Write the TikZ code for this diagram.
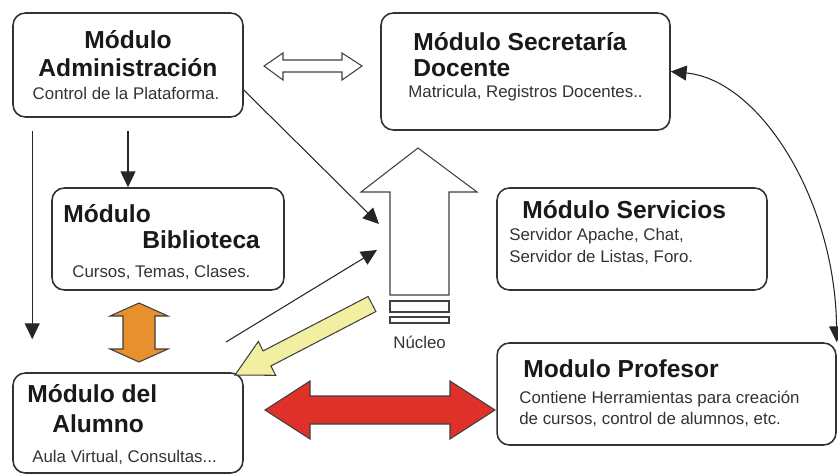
\documentclass[tikz,border=0pt]{standalone}
\usepackage{fontspec}
\setmainfont{Liberation Sans}
\usetikzlibrary{arrows.meta}
\definecolor{amarillo}{HTML}{F2EFA0}
\definecolor{naranja}{HTML}{E8902E}
\definecolor{rojo}{HTML}{E0302A}

\begin{document}
\begin{tikzpicture}[x=0.02cm,y=-0.02cm,
    caja/.style={draw=black!80,line width=0.9pt,rounded corners=7pt,inner sep=0pt},
    titulo/.style={anchor=base west,inner sep=0pt,text=black!90,font=\fontsize{14}{14}\selectfont\bfseries},
    texto/.style={anchor=base west,inner sep=0pt,text=black!80,font=\fontsize{9.6}{9.6}\selectfont},
    flecha/.style={-{Triangle[length=9pt,width=8.5pt]},line width=0.6pt,draw=black!85},
    bloque/.style={draw=black!75,line width=0.6pt,line join=miter}]
    \useasboundingbox (0,0) rectangle (838,474);
    \node[caja,minimum width=4.6cm,minimum height=2.08cm] (adm) at (128,65) {};
    \node[caja,minimum width=5.78cm,minimum height=2.34cm] (sec) at (525.5,71.5) {};
    \node[caja,minimum width=4.64cm,minimum height=2.04cm] (bib) at (168,239) {};
    \node[caja,minimum width=5.4cm,minimum height=2.04cm] (ser) at (632,239) {};
    \node[caja,minimum width=6.78cm,minimum height=2.04cm] (pro) at (666.5,394) {};
    \node[caja,minimum width=4.6cm,minimum height=2cm] (alu) at (128,423) {};
    \node[titulo,anchor=base] (admT1) at (128,48) {Módulo};
    \node[titulo,anchor=base] (admT2) at (128,76) {Administración};
    \node[texto,anchor=base] (admS) at (126,99) {Control de la Plataforma.};
    \node[titulo] (secT1) at (413,50) {Módulo Secretaría};
    \node[titulo] (secT2) at (413,76) {Docente};
    \node[texto] (secS) at (408,97) {Matricula, Registros Docentes..};
    \node[titulo] (bibT1) at (63,222) {Módulo};
    \node[titulo] (bibT2) at (142,248) {Biblioteca};
    \node[texto] (bibS) at (72,277) {Cursos, Temas, Clases.};
    \node[titulo] (serT) at (522,218) {Módulo Servicios};
    \node[texto] (serS1) at (509,240) {Servidor Apache, Chat,};
    \node[texto] (serS2) at (509,262) {Servidor de Listas, Foro.};
    \node[titulo] (proT) at (523,377) {Modulo Profesor};
    \node[texto] (proS1) at (519,403) {Contiene Herramientas para creación};
    \node[texto] (proS2) at (519,424) {de cursos, control de alumnos, etc.};
    \node[titulo] (aluT1) at (27,402) {Módulo del};
    \node[titulo] (aluT2) at (52,432) {Alumno};
    \node[texto] (aluS) at (32,462) {Aula Virtual, Consultas...};
    \draw[bloque,fill=white] (418,148) -- (477,192) -- (449,192) -- (449,295) -- (390,295) -- (390,192) -- (361,192) -- cycle;
    \draw[bloque] (390,301) rectangle (449,312);
    \draw[bloque] (390,317) rectangle (449,323);
    \node[texto] (nuc) at (393,348) {Núcleo};
    \coordinate (nucA) at (379,224);
    \coordinate (nucB) at (377,250);
    \coordinate (aluP) at (226,342);
    \draw[bloque,fill=white] (264,66) -- (283,53) -- (283,60) -- (342,60) -- (342,53) -- (362,66) -- (342,80) -- (342,72) -- (283,72) -- (283,80) -- cycle;
    \draw[bloque,fill=naranja] (139,303) -- (168,316) -- (155,316) -- (155,349) -- (168,349) -- (139,362) -- (110,349) -- (123,349) -- (123,316) -- (110,316) -- cycle;
    \draw[bloque,fill=amarillo] (368.1,296.5) -- (263.1,350.9) -- (258.3,341.5) -- (235,375) -- (275.7,375.3) -- (270.9,366) -- (375.9,311.5) -- cycle;
    \draw[bloque,fill=rojo] (265,410) -- (310,381) -- (310,396) -- (450,396) -- (450,381) -- (495,410) -- (450,439) -- (450,424) -- (310,424) -- (310,439) -- cycle;
    \draw[flecha] ([xshift=0.4cm,yshift=-0.26cm]adm.south west) -- ([xshift=0.4cm,yshift=0.66cm]alu.north west);
    \draw[flecha] ([yshift=-0.26cm]adm.south) -- (adm.south |- bib.north);
    \draw[flecha] ([yshift=-0.5cm]adm.east) -- (nucA);
    \draw[flecha] (aluP) -- (nucB);
    \draw[flecha,{Triangle[length=9pt,width=8.5pt]}-{Triangle[length=9pt,width=8.5pt]}] (sec.east) .. controls (760,80) and (835,200) .. (pro.north east);
\end{tikzpicture}
\end{document}
